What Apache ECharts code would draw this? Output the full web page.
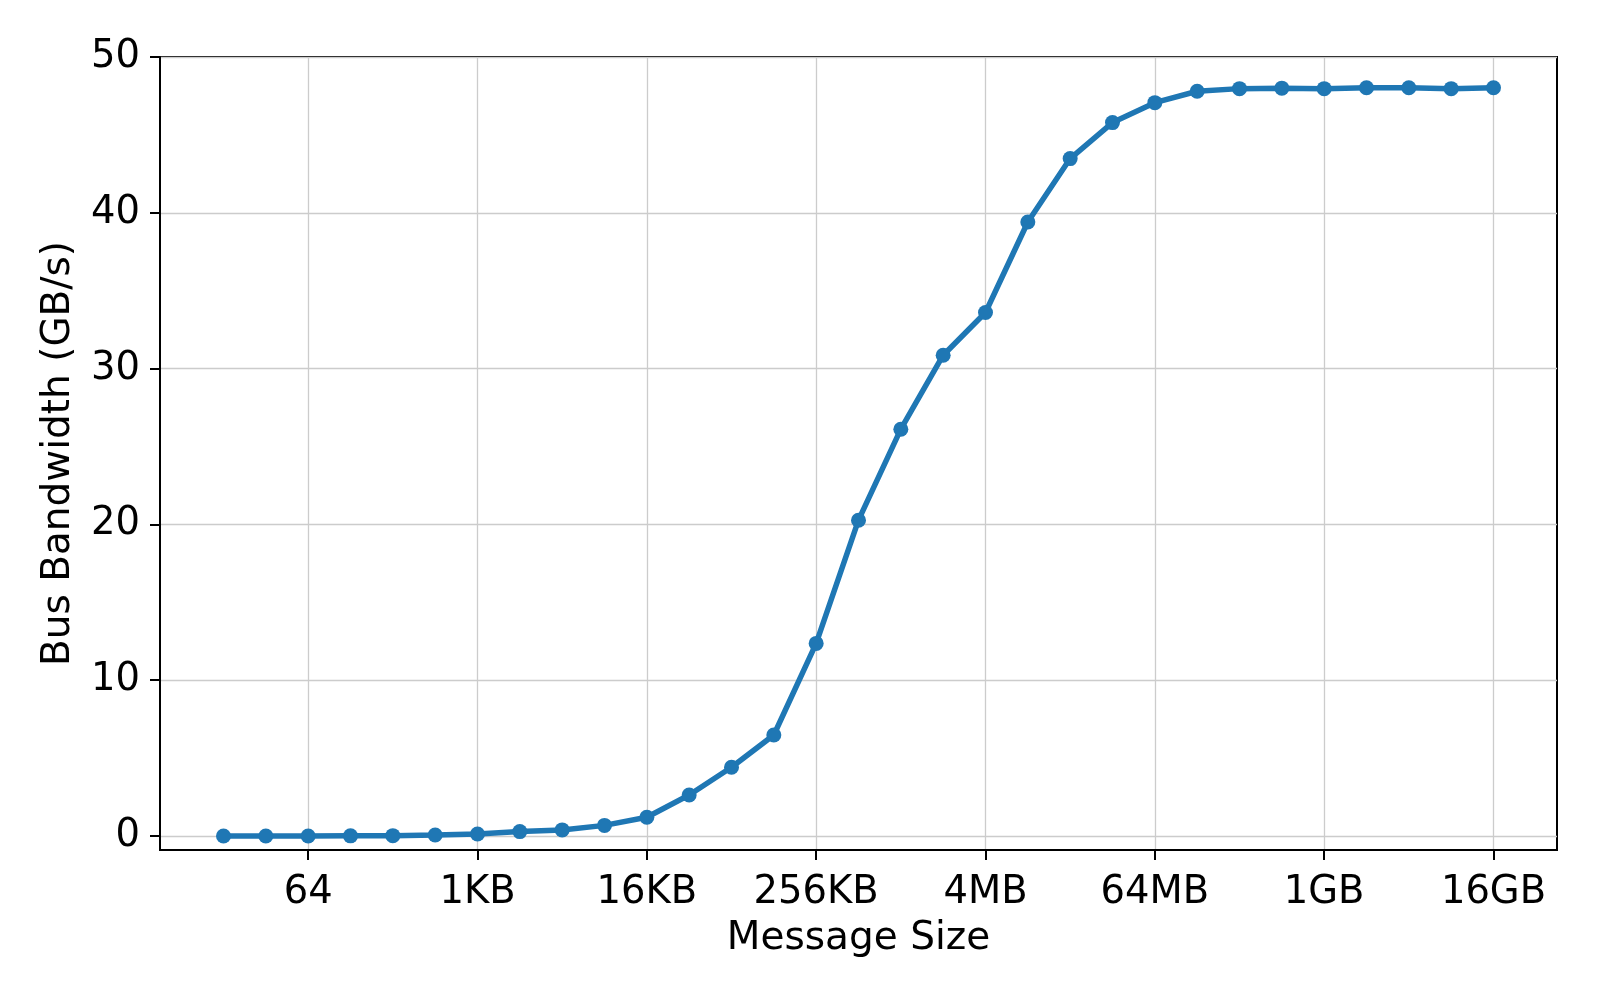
<!DOCTYPE html>
<html>
<head>
<meta charset="utf-8">
<script src="https://cdn.jsdelivr.net/npm/echarts@6/dist/echarts.min.js"></script>
<style>
html,body{margin:0;padding:0;background:#fff;}
#chart{width:1600px;height:1000px;}
</style>
</head>
<body>
<div id="chart"></div>
<script>
// Message sizes in bytes (2^4 .. 2^34)
const messageSizes = [16, 32, 64, 128, 256, 512, 1024, 2048, 4096, 8192, 16384, 32768, 65536, 131072, 262144, 524288, 1048576, 2097152, 4194304, 8388608, 16777216, 33554432, 67108864, 134217728, 268435456, 536870912, 1073741824, 2147483648, 4294967296, 8589934592, 17179869184];
// Bus bandwidth (GB/s)
const busBandwidth = [0.0, 0.0, 0.0, 0.01, 0.02, 0.06, 0.13, 0.28, 0.39, 0.68, 1.2, 2.63, 4.41, 6.48, 12.36, 20.27, 26.11, 30.86, 33.6, 39.41, 43.48, 45.79, 47.07, 47.8, 47.97, 48.0, 47.97, 48.03, 48.03, 47.97, 48.03];
// X tick positions (bytes) and labels
const xTickSizes = [64, 1024, 16384, 262144, 4194304, 67108864, 1073741824, 17179869184];
const xTickLabels = ['64', '1KB', '16KB', '256KB', '4MB', '64MB', '1GB', '16GB'];
const yTickValues = [0, 10, 20, 30, 40, 50];

const xTickExps = xTickSizes.map(s => Math.log2(s));
const seriesData = messageSizes.map((s, i) => [Math.log2(s), busBandwidth[i]]);

const FONT = 'DejaVu Sans';
const chart = echarts.init(document.getElementById('chart'), null, {renderer: 'canvas'});
chart.setOption({
  animation: false,
  backgroundColor: '#ffffff',
  grid: {
    left: 160, right: 43, top: 57, bottom: 150,
    show: true, borderColor: '#000', borderWidth: 2, backgroundColor: 'transparent'
  },
  xAxis: {
    type: 'value',
    min: 2.5, max: 35.5,
    name: 'Message Size',
    nameLocation: 'middle',
    nameGap: 69,
    nameTextStyle: {fontFamily: FONT, fontSize: 39, color: '#000'},
    axisLine: {show: true, onZero: false, lineStyle: {color: '#000', width: 2}},
    axisTick: {show: true, length: 10, lineStyle: {color: '#000', width: 2}, customValues: xTickExps},
    axisLabel: {
      fontFamily: FONT, fontSize: 38.5, color: '#000', margin: 23,
      customValues: xTickExps,
      formatter: function (v) {
        const i = xTickExps.findIndex(e => Math.abs(e - v) < 1e-6);
        return i >= 0 ? xTickLabels[i] : '';
      }
    },
    splitLine: {show: true, lineStyle: {color: '#cccccc', width: 1.3}}
  },
  yAxis: {
    type: 'value',
    min: -0.9, max: 50,
    name: 'Bus Bandwidth (GB/s)',
    nameLocation: 'middle',
    nameGap: 82,
    nameRotate: 90,
    nameTextStyle: {fontFamily: FONT, fontSize: 39, color: '#000'},
    axisLine: {show: true, onZero: false, lineStyle: {color: '#000', width: 2}},
    axisTick: {show: true, length: 10, lineStyle: {color: '#000', width: 2}, customValues: yTickValues},
    axisLabel: {fontFamily: FONT, fontSize: 38.5, color: '#000', margin: 20, customValues: yTickValues},
    splitLine: {show: true, lineStyle: {color: '#cccccc', width: 1.3}}
  },
  series: [{
    type: 'line',
    data: seriesData,
    symbol: 'circle',
    symbolSize: 15,
    showSymbol: true,
    lineStyle: {color: '#1f77b4', width: 5.5},
    itemStyle: {color: '#1f77b4'},
    emphasis: {disabled: true}
  }]
});
</script>
</body>
</html>
